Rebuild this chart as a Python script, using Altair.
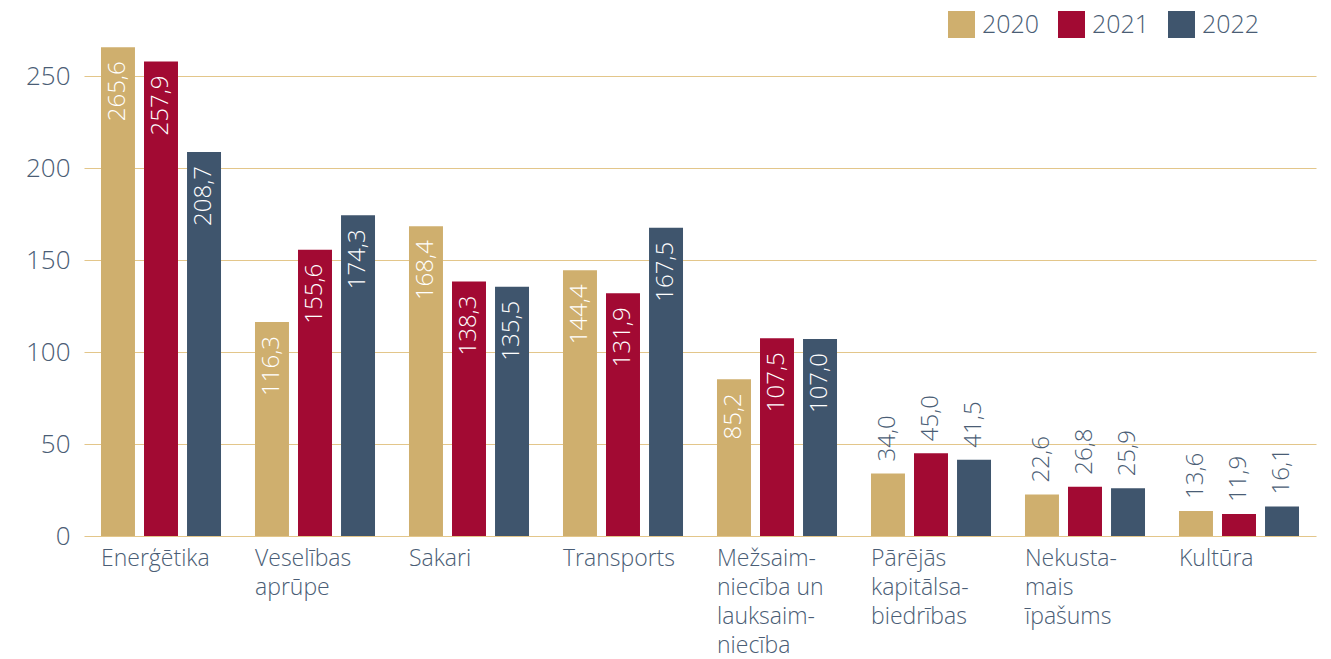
import altair as alt
import pandas as pd

categories = [
    "Enerģētika",
    "Veselības\naprūpe",
    "Sakari",
    "Transports",
    "Mežsaim-\nniecība un\nlauksaim-\nniecība",
    "Pārējās\nkapitālsa-\nbiedrības",
    "Nekusta-\nmais\nīpašums",
    "Kultūra",
]
years = ["2020", "2021", "2022"]
v2020 = [265.6, 116.3, 168.4, 144.4, 85.2, 34.0, 22.6, 13.6]
v2021 = [257.9, 155.6, 138.3, 131.9, 107.5, 45.0, 26.8, 11.9]
v2022 = [208.7, 174.3, 135.5, 167.5, 107.0, 41.5, 25.9, 16.1]
colors = ["#CFAF6E", "#A20A33", "#3F556D"]
y_ticks = [0, 50, 100, 150, 200, 250]

rows = []
for yr, vals in zip(years, [v2020, v2021, v2022]):
    for c, v in zip(categories, vals):
        rows.append({"category": c, "year": yr, "value": v})
df = pd.DataFrame(rows)

TEXT = "#4A5D75"
FONT = "Open Sans"

base = alt.Chart(df).transform_calculate(
    label="replace(format(datum.value, '.1f'), '.', ',')"
).encode(
    x=alt.X(
        "category:N",
        sort=categories,
        scale=alt.Scale(paddingInner=0.162, paddingOuter=0.081),
        axis=alt.Axis(
            title=None,
            labelAngle=0,
            labelAlign="left",
            labelBaseline="top",
            labelOffset=-60,
            labelPadding=11,
            labelLineHeight=29.3,
            labelFontSize=23,
            labelFontWeight=300,
            labelColor=TEXT,
            labelLimit=0,
            labelOverlap=False,
            labelExpr="split(datum.label, '\\n')",
            ticks=False,
            tickSize=0,
            domain=False,
            grid=False,
        ),
    ),
    xOffset=alt.XOffset(
        "year:N", sort=years, scale=alt.Scale(paddingInner=0.21, paddingOuter=0.105)
    ),
    y=alt.Y(
        "value:Q",
        scale=alt.Scale(domain=[0, 275], nice=False),
        axis=alt.Axis(
            title=None,
            values=y_ticks,
            ticks=False,
            tickSize=0,
            domain=False,
            labelFontSize=26,
            labelFontWeight=300,
            labelColor=TEXT,
            labelPadding=14,
            gridColor="#E3C68A",
            gridWidth=1.2,
        ),
    ),
)

bars = base.mark_bar().encode(
    color=alt.Color(
        "year:N",
        sort=years,
        scale=alt.Scale(domain=years, range=colors),
        legend=alt.Legend(
            title=None,
            orient="none",
            legendX=864,
            legendY=-19,
            direction="horizontal",
            symbolType="square",
            symbolSize=729,
            symbolStrokeWidth=0,
            symbolOpacity=1,
            labelFontSize=25,
            labelFontWeight=300,
            labelColor=TEXT,
            labelOffset=7,
            columnPadding=18,
        ),
    )
)

inside = base.transform_filter("datum.value >= 60").mark_text(
    angle=270, align="right", baseline="middle", dx=-14,
    fontSize=24, fontWeight=300, color="#FFFFFF", font=FONT
).encode(text="label:N")

outside = base.transform_filter("datum.value < 60").mark_text(
    angle=270, align="left", baseline="middle", dx=12,
    fontSize=24, fontWeight=300, color=TEXT, font=FONT
).encode(text="label:N")

chart = alt.layer(bars, inside, outside).properties(
    width=1232,
    height=506,
    autosize=alt.AutoSizeParams(type="none"),
    padding={"left": 76, "top": 22, "right": 5, "bottom": 124},
).configure(font=FONT).configure_view(stroke=None)

chart.save("out.html", embed_options={"renderer": "svg", "actions": False})
